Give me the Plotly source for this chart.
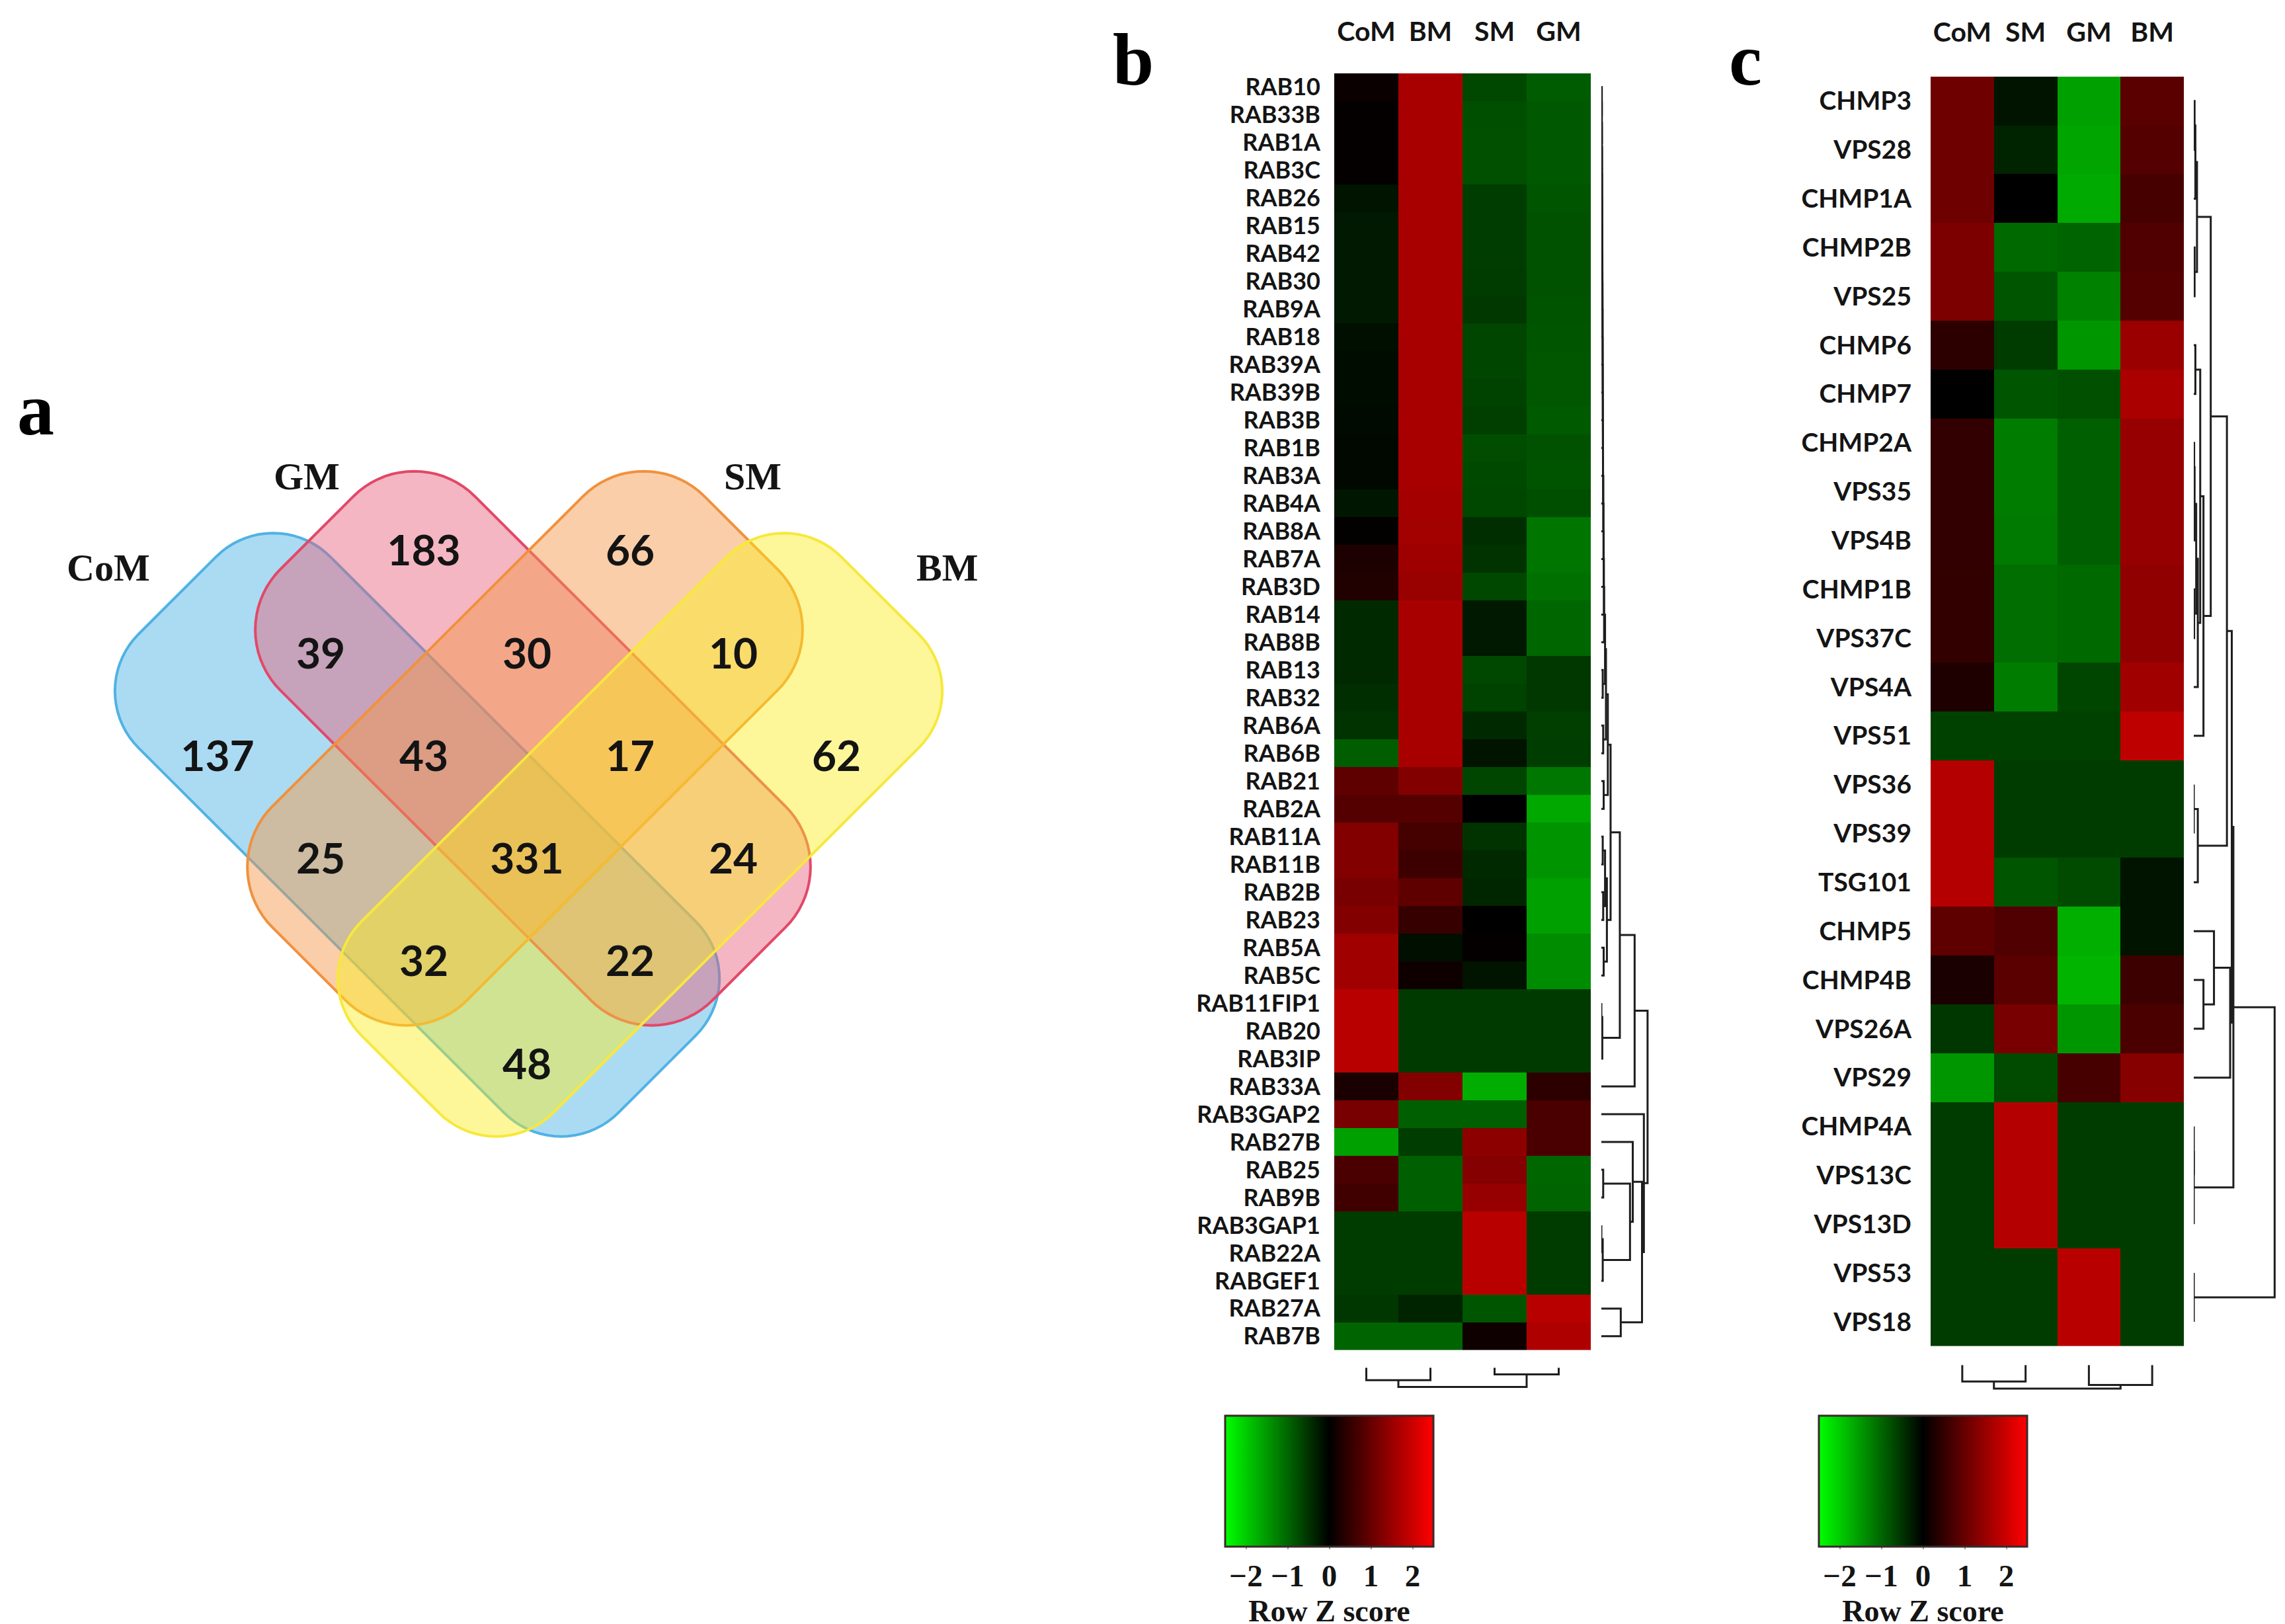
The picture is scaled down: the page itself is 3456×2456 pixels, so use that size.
import math
import plotly.graph_objects as go

W, H = 3456, 2456

# ---------------- DATA ----------------
venn_sets = ["CoM", "GM", "SM", "BM"]
venn_counts = [137, 183, 66, 62, 39, 30, 10, 43, 17, 25, 331, 24, 32, 22, 48]

b_genes = ["RAB10", "RAB33B", "RAB1A", "RAB3C", "RAB26", "RAB15", "RAB42", "RAB30", "RAB9A",
           "RAB18", "RAB39A", "RAB39B", "RAB3B", "RAB1B", "RAB3A", "RAB4A", "RAB8A", "RAB7A",
           "RAB3D", "RAB14", "RAB8B", "RAB13", "RAB32", "RAB6A", "RAB6B", "RAB21", "RAB2A",
           "RAB11A", "RAB11B", "RAB2B", "RAB23", "RAB5A", "RAB5C", "RAB11FIP1", "RAB20",
           "RAB3IP", "RAB33A", "RAB3GAP2", "RAB27B", "RAB25", "RAB9B", "RAB3GAP1", "RAB22A",
           "RABGEF1", "RAB27A", "RAB7B"]
b_cols = ["CoM", "BM", "SM", "GM"]
b_CoM = [0.10, 0.05, 0.05, 0.05, -0.20, -0.25, -0.25, -0.25, -0.25, -0.15, -0.12, -0.12, -0.10,
         -0.08, -0.08, -0.22, 0.03, 0.28, 0.32, -0.40, -0.40, -0.40, -0.45, -0.50, -0.92, 0.92,
         0.83, 1.27, 1.27, 1.18, 1.27, 1.57, 1.57, 1.80, 1.80, 1.80, 0.25, 1.18, -1.57, 0.73,
         0.64, -0.58, -0.58, -0.58, -0.54, -0.98]
b_BM = [1.65, 1.65, 1.65, 1.65, 1.65, 1.65, 1.65, 1.65, 1.65, 1.65, 1.65, 1.65, 1.65, 1.65,
        1.65, 1.62, 1.60, 1.55, 1.50, 1.65, 1.65, 1.65, 1.65, 1.65, 1.65, 1.27, 0.83, 0.68, 0.60,
        0.93, 0.54, -0.15, 0.15, -0.57, -0.57, -0.57, 1.27, -0.93, -0.60, -0.93, -0.93, -0.58,
        -0.58, -0.58, -0.34, -0.98]
b_SM = [-0.70, -0.76, -0.78, -0.78, -0.60, -0.60, -0.60, -0.58, -0.55, -0.68, -0.68, -0.65,
        -0.62, -0.75, -0.72, -0.70, -0.45, -0.50, -0.70, -0.25, -0.25, -0.70, -0.65, -0.40,
        -0.20, -0.68, 0.00, -0.50, -0.40, -0.37, 0.00, 0.05, -0.20, -0.57, -0.57, -0.57, -1.70,
        -0.93, 1.37, 1.30, 1.47, 1.80, 1.80, 1.80, -0.83, 0.15]
b_GM = [-0.90, -0.86, -0.86, -0.86, -0.83, -0.80, -0.80, -0.80, -0.82, -0.83, -0.85, -0.85,
        -0.88, -0.80, -0.82, -0.76, -1.15, -1.15, -1.10, -1.00, -1.00, -0.55, -0.55, -0.62,
        -0.60, -1.17, -1.65, -1.45, -1.45, -1.57, -1.57, -1.37, -1.37, -0.57, -0.57, -0.57,
        0.44, 0.73, 0.73, -1.00, -0.98, -0.58, -0.58, -0.58, 1.80, 1.72]

c_genes = ["CHMP3", "VPS28", "CHMP1A", "CHMP2B", "VPS25", "CHMP6", "CHMP7", "CHMP2A", "VPS35",
           "VPS4B", "CHMP1B", "VPS37C", "VPS4A", "VPS51", "VPS36", "VPS39", "TSG101", "CHMP5",
           "CHMP4B", "VPS26A", "VPS29", "CHMP4A", "VPS13C", "VPS13D", "VPS53", "VPS18"]
c_cols = ["CoM", "SM", "GM", "BM"]
c_CoM = [1.08, 1.08, 1.08, 1.23, 1.23, 0.44, 0.00, 0.49, 0.49, 0.49, 0.50, 0.50, 0.29, -0.64,
         1.76, 1.76, 1.76, 0.93, 0.25, -0.54, -1.47, -0.59, -0.59, -0.59, -0.59, -0.59]
c_SM = [-0.20, -0.34, 0.00, -1.03, -0.83, -0.59, -0.83, -1.23, -1.23, -1.20, -1.08, -1.08,
        -1.23, -0.64, -0.59, -0.59, -0.83, 0.78, 0.88, 1.18, -0.74, 1.76, 1.76, 1.76, -0.59, -0.59]
c_GM = [-1.57, -1.62, -1.67, -0.98, -1.27, -1.47, -0.78, -0.93, -0.93, -0.93, -1.03, -1.03,
        -0.69, -0.64, -0.59, -0.59, -0.74, -1.72, -1.76, -1.47, 0.69, -0.59, -0.59, -0.59, 1.80, 1.80]
c_BM = [0.88, 0.83, 0.69, 0.78, 0.83, 1.52, 1.67, 1.47, 1.47, 1.47, 1.42, 1.42, 1.57, 1.86,
        -0.59, -0.59, -0.20, -0.20, 0.59, 0.74, 1.32, -0.59, -0.59, -0.59, -0.59, -0.59]

# hierarchical clustering (linkage: [child_a, child_b, height]; ids >= n are earlier merges)
b_row_linkage = [
    [0, 1, 0.010], [46, 2, 0.012], [47, 3, 0.014], [48, 4, 0.016], [49, 5, 0.018],
    [50, 6, 0.020], [51, 7, 0.022], [52, 8, 0.024], [53, 9, 0.026], [54, 10, 0.028],
    [55, 11, 0.030], [56, 12, 0.032], [57, 13, 0.034], [58, 14, 0.036], [59, 15, 0.038],
    [60, 16, 0.042], [61, 17, 0.046], [62, 18, 0.050], [63, 19, 0.055], [64, 20, 0.060],
    [21, 22, 0.03], [65, 66, 0.08], [23, 24, 0.04], [67, 68, 0.10], [25, 26, 0.05],
    [69, 70, 0.14], [27, 28, 0.03], [29, 30, 0.04], [72, 73, 0.08], [31, 32, 0.05],
    [74, 75, 0.12], [71, 76, 0.20], [33, 34, 0.00], [78, 35, 0.02], [77, 79, 0.40],
    [80, 36, 0.72], [39, 40, 0.04], [41, 42, 0.00], [83, 43, 0.03], [82, 84, 0.62],
    [38, 85, 0.68], [44, 45, 0.42], [86, 87, 0.88], [37, 88, 0.92], [81, 89, 1.00]]
b_col_linkage = [[2, 3, 0.35], [0, 1, 0.65], [5, 4, 1.00]]
c_row_linkage = [
    [0, 1, 0.01], [26, 2, 0.02], [3, 4, 0.01], [27, 28, 0.04], [5, 6, 0.02],
    [7, 8, 0.005], [31, 9, 0.01], [10, 11, 0.005], [32, 33, 0.03], [34, 12, 0.05],
    [30, 35, 0.08], [36, 13, 0.12], [29, 37, 0.21], [14, 15, 0.00], [39, 16, 0.05],
    [38, 40, 0.41], [18, 19, 0.12], [17, 42, 0.25], [43, 20, 0.45], [41, 44, 0.47],
    [21, 22, 0.00], [46, 23, 0.00], [45, 47, 0.49], [24, 25, 0.00], [48, 49, 1.00]]
c_col_linkage = [[0, 1, 0.70], [2, 3, 0.85], [4, 5, 1.00]]

cbar_ticks = [-2, -1, 0, 1, 2]
cbar_ticktext = ["\u22122", "\u22121", "0", "1", "2"]

# ---------------- LAYOUT HELPERS ----------------
def fx(p):
    return p / W


def fy(p):
    return 1 - p / H


# pixel geometry of the panels
HB = dict(x0=2010, x1=2398, y0=101, y1=2036)
HC = dict(x0=2912, x1=3295, y0=106, y1=2030)

venn_geom = {
    "CoM": dict(cx=623, cy=1255, a=513, b=205, r=122, theta=45,
                fill="rgba(45,165,225,0.40)", line="rgb(80,178,228)"),
    "GM": dict(cx=798, cy=1124, a=462, b=208, r=130, theta=45,
               fill="rgba(231,93,120,0.45)", line="rgb(226,72,104)"),
    "SM": dict(cx=786, cy=1124, a=462, b=208, r=130, theta=135,
               fill="rgba(244,150,70,0.47)", line="rgb(240,145,62)"),
    "BM": dict(cx=960, cy=1255, a=513, b=205, r=122, theta=135,
               fill="rgba(251,238,31,0.45)", line="rgb(247,232,60)"),
}
venn_label_pos = {"CoM": (156, 850), "GM": (456, 712), "SM": (1130, 712), "BM": (1424, 850)}
# lattice cell (col, row) of each count
count_cells = [(-3, 2), (-1, 0), (1, 0), (3, 2), (-2, 1), (0, 1), (2, 1), (-1, 2), (1, 2),
               (-2, 3), (0, 3), (2, 3), (-1, 4), (1, 4), (0, 5)]
LX0, LDX, LY0, LDY = 789, 156, 831, 155.6


def rounded_rect_path(cx, cy, a, b, r, theta, n=18):
    pts = []
    corners = [(a - r, b - r, 0), (-(a - r), b - r, 90), (-(a - r), -(b - r), 180), (a - r, -(b - r), 270)]
    for qx, qy, start in corners:
        for i in range(n + 1):
            ang = math.radians(start + 90 * i / n)
            pts.append((qx + r * math.cos(ang), qy + r * math.sin(ang)))
    t = math.radians(theta)
    ct, st = math.cos(t), math.sin(t)
    out = [(cx + x * ct - y * st, cy + x * st + y * ct) for x, y in pts]
    return "M " + " L ".join(f"{x:.1f},{y:.1f}" for x, y in out) + " Z"


def linkage_lines(n, merges):
    pos = {i: float(i) for i in range(n)}
    hgt = {i: 0.0 for i in range(n)}
    hs, ps = [], []
    for k, (a, b, h) in enumerate(merges):
        node = n + k
        hs += [hgt[a], h, h, hgt[b], None]
        ps += [pos[a], pos[a], pos[b], pos[b], None]
        pos[node] = (pos[a] + pos[b]) / 2
        hgt[node] = h
    return hs, ps


LABEL_FONT = "Lato"
SERIF = "Liberation Serif"
INK = "#141414"

colorscale = [[0.0, "#00FF00"], [0.5, "#000000"], [1.0, "#FF0000"]]

fig = go.Figure()

# ---------------- HEATMAPS ----------------
zb = [list(r) for r in zip(b_CoM, b_BM, b_SM, b_GM)]
zc = [list(r) for r in zip(c_CoM, c_SM, c_GM, c_BM)]
fig.add_trace(go.Heatmap(z=zb, x=b_cols, y=b_genes, coloraxis="coloraxis",
                         xaxis="x", yaxis="y", hoverinfo="skip"))
fig.add_trace(go.Heatmap(z=zc, x=c_cols, y=c_genes, coloraxis="coloraxis2",
                         xaxis="x2", yaxis="y2", hoverinfo="skip"))

# ---------------- DENDROGRAMS ----------------
DLINE = dict(color="#1e1e1e", width=3)
hs, ps = linkage_lines(len(b_genes), b_row_linkage)
fig.add_trace(go.Scatter(x=hs, y=ps, mode="lines", line=DLINE, xaxis="x4", yaxis="y4",
                         hoverinfo="skip", showlegend=False))
hs, ps = linkage_lines(len(b_cols), b_col_linkage)
fig.add_trace(go.Scatter(x=ps, y=hs, mode="lines", line=DLINE, xaxis="x5", yaxis="y5",
                         hoverinfo="skip", showlegend=False))
hs, ps = linkage_lines(len(c_genes), c_row_linkage)
fig.add_trace(go.Scatter(x=hs, y=ps, mode="lines", line=DLINE, xaxis="x6", yaxis="y6",
                         hoverinfo="skip", showlegend=False))
hs, ps = linkage_lines(len(c_cols), c_col_linkage)
fig.add_trace(go.Scatter(x=ps, y=hs, mode="lines", line=DLINE, xaxis="x7", yaxis="y7",
                         hoverinfo="skip", showlegend=False))

# ---------------- VENN ----------------
fig.add_trace(go.Scatter(
    x=[LX0 + LDX * c for c, r in count_cells],
    y=[LY0 + LDY * r for c, r in count_cells],
    text=[str(v) for v in venn_counts], mode="text",
    textfont=dict(family=LABEL_FONT, size=64, color=INK, weight="bold"),
    xaxis="x3", yaxis="y3", hoverinfo="skip", showlegend=False, cliponaxis=False))

shapes = []
for s in venn_sets:
    g = venn_geom[s]
    shapes.append(dict(type="path", xref="x3", yref="y3", layer="below",
                       path=rounded_rect_path(g["cx"], g["cy"], g["a"], g["b"], g["r"], g["theta"]),
                       fillcolor=g["fill"], line=dict(color=g["line"], width=4)))

annotations = []
for s in venn_sets:
    px, py = venn_label_pos[s]
    annotations.append(dict(x=fx(px), y=fy(py), xref="paper", yref="paper", text=s,
                            showarrow=False, xanchor="center", yanchor="middle",
                            font=dict(family=SERIF, size=58, color=INK, weight="bold")))
for letter, (px, py) in zip(["a", "b", "c"], [(46, 610), (1706, 80), (2632, 80)]):
    annotations.append(dict(x=fx(px), y=fy(py), xref="paper", yref="paper", text=letter,
                            showarrow=False, xanchor="center", yanchor="middle",
                            font=dict(family=SERIF, size=112, color="black", weight="bold")))

# ---------------- AXES ----------------
def hidden(**kw):
    d = dict(visible=False, showgrid=False, zeroline=False, fixedrange=True)
    d.update(kw)
    return d


def cbar(x0, x1, y0, y1):
    return dict(orientation="h", x=fx(x0), xanchor="left", y=fy(y0), yanchor="top",
                len=x1 - x0, lenmode="pixels", thickness=y1 - y0, thicknessmode="pixels",
                xpad=0, ypad=0, outlinewidth=3, outlinecolor="#3a2a2a",
                tickmode="array", tickvals=cbar_ticks, ticktext=cbar_ticktext,
                ticks="outside", ticklen=3, tickwidth=2, tickcolor="#999",
                tickfont=dict(family=SERIF, size=47, color=INK, weight="bold"),
                title=dict(text="Row Z score", side="bottom",
                           font=dict(family=SERIF, size=46, color=INK, weight="bold")))


def row_labels(genes, size, standoff):
    return dict(autorange="reversed", tickmode="array", tickvals=genes, ticktext=genes,
                ticks="", showgrid=False, zeroline=False, showline=False,
                ticklabelstandoff=standoff,
                tickfont=dict(family=LABEL_FONT, size=size, color=INK, weight="bold"))


def col_labels(cols, standoff):
    return dict(side="top", tickmode="array", tickvals=cols, ticktext=cols, ticks="",
                showgrid=False, zeroline=False, showline=False, ticklabelstandoff=standoff,
                tickfont=dict(family=LABEL_FONT, size=41, color=INK, weight="bold"))


fig.update_layout(
    width=W, height=H, margin=dict(l=0, r=0, t=0, b=0),
    paper_bgcolor="white", plot_bgcolor="rgba(0,0,0,0)", showlegend=False,
    shapes=shapes, annotations=annotations,
    coloraxis=dict(colorscale=colorscale, cmin=-2.5, cmax=2.5,
                   colorbar=cbar(1845, 2160, 2135, 2333)),
    coloraxis2=dict(colorscale=colorscale, cmin=-2.5, cmax=2.5,
                    colorbar=cbar(2743, 3058, 2135, 2333)),
    xaxis=dict(domain=[fx(HB["x0"]), fx(HB["x1"])], anchor="y", **col_labels(b_cols, 40)),
    yaxis=dict(domain=[fy(HB["y1"]), fy(HB["y0"])], anchor="x", **row_labels(b_genes, 36, 20)),
    xaxis2=dict(domain=[fx(HC["x0"]), fx(HC["x1"])], anchor="y2", **col_labels(c_cols, 44)),
    yaxis2=dict(domain=[fy(HC["y1"]), fy(HC["y0"])], anchor="x2", **row_labels(c_genes, 39, 28)),
    xaxis3=hidden(domain=[0, 1], range=[0, W], anchor="y3"),
    yaxis3=hidden(domain=[0, 1], range=[H, 0], anchor="x3"),
    xaxis4=hidden(domain=[fx(2414), fx(2486)], range=[0, 1.03], anchor="y4"),
    yaxis4=hidden(domain=[fy(HB["y1"]), fy(HB["y0"])], range=[len(b_genes) - 0.5, -0.5], anchor="x4"),
    xaxis5=hidden(domain=[fx(HB["x0"]), fx(HB["x1"])], range=[-0.5, 3.5], anchor="y5"),
    yaxis5=hidden(domain=[fy(2094), fy(2062)], range=[1.08, -0.02], anchor="x5"),
    xaxis6=hidden(domain=[fx(3310), fx(3436)], range=[0, 1.03], anchor="y6"),
    yaxis6=hidden(domain=[fy(HC["y1"]), fy(HC["y0"])], range=[len(c_genes) - 0.5, -0.5], anchor="x6"),
    xaxis7=hidden(domain=[fx(HC["x0"]), fx(HC["x1"])], range=[-0.5, 3.5], anchor="y7"),
    yaxis7=hidden(domain=[fy(2097), fy(2058)], range=[1.08, -0.02], anchor="x7"),
)

fig.write_html("out.html")
